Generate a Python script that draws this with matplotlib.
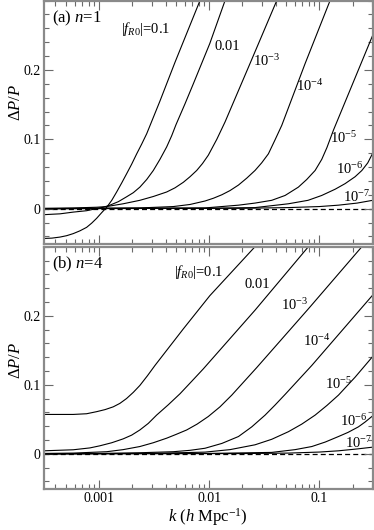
import matplotlib
matplotlib.use("Agg")
import matplotlib.pyplot as plt
from matplotlib.ticker import FixedLocator, LogLocator, MultipleLocator, FuncFormatter, NullFormatter

plt.rcParams['font.family'] = ['Liberation Serif', 'DejaVu Serif']
plt.rcParams['mathtext.fontset'] = 'custom'
plt.rcParams['mathtext.rm'] = 'Liberation Serif'
plt.rcParams['mathtext.it'] = 'Liberation Serif:italic'
plt.rcParams['mathtext.bf'] = 'Liberation Serif:bold'

# |fR0| labels, one per curve
fr0_labels = [r'$|f_{R0}|$=0.1', '0.01', r'10$^{-3}$', r'10$^{-4}$',
              r'10$^{-5}$', r'10$^{-6}$', r'10$^{-7}$']

# ---- panel (a): n=1, k in h/Mpc, values are Delta P / P ----
a1_k = [3.14e-4, 3.72e-4, 4.40e-4, 5.06e-4, 5.81e-4, 6.68e-4, 7.68e-4, 8.53e-4, 9.47e-4, 1.05e-3,
        1.17e-3, 1.30e-3, 1.44e-3, 1.60e-3, 1.77e-3, 1.97e-3, 2.19e-3, 2.43e-3, 2.70e-3, 3.56e-3,
        4.88e-3, 8.23e-3]
a1_y = [-0.043, -0.0425, -0.041, -0.039, -0.036, -0.032, -0.027, -0.021, -0.014, -0.006,
        0.002, 0.012, 0.024, 0.037, 0.050, 0.064, 0.079, 0.093, 0.108, 0.155,
        0.211, 0.300]
a2_k = [3.14e-4, 4.40e-4, 5.81e-4, 7.68e-4, 9.47e-4, 1.09e-3, 1.25e-3, 1.49e-3, 1.77e-3, 2.04e-3,
        2.34e-3, 2.70e-3, 3.10e-3, 3.56e-3, 4.10e-3, 4.55e-3, 4.98e-3, 6.01e-3, 7.16e-3, 1.01e-2,
        1.39e-2]
a2_y = [-0.0087, -0.0075, -0.005, -0.003, 0.0, 0.002, 0.005, 0.010, 0.017, 0.023,
        0.031, 0.042, 0.055, 0.071, 0.089, 0.105, 0.121, 0.151, 0.180, 0.238,
        0.300]
a3_k = [3.14e-4, 5.81e-4, 9.47e-4, 1.17e-3, 1.65e-3, 2.34e-3, 3.10e-3, 4.10e-3, 4.88e-3, 5.81e-3,
        6.68e-3, 7.68e-3, 8.67e-3, 9.79e-3, 1.17e-2, 1.39e-2, 2.34e-2, 4.10e-2]
a3_y = [0.0005, 0.001, 0.002, 0.003, 0.007, 0.012, 0.0175, 0.024, 0.030, 0.038,
        0.046, 0.055, 0.065, 0.077, 0.100, 0.125, 0.209, 0.300]
a4_k = [3.14e-4, 2.34e-3, 4.71e-3, 6.68e-3, 9.14e-3, 1.09e-2, 1.30e-2, 1.54e-2, 1.84e-2, 2.19e-2,
        2.60e-2, 2.99e-2, 3.44e-2, 3.95e-2, 4.55e-2, 7.41e-2, 0.125]
a4_y = [0.0, 0.001, 0.003, 0.006, 0.011, 0.015, 0.020, 0.026, 0.034, 0.044,
        0.055, 0.066, 0.079, 0.099, 0.120, 0.209, 0.300]
a5_k = [3.14e-4, 9.14e-3, 1.84e-2, 2.60e-2, 3.69e-2, 4.88e-2, 6.44e-2, 7.67e-2, 9.14e-2, 0.105,
        0.117, 0.134, 0.198, 0.305]
a5_y = [0.0, 0.001, 0.005, 0.008, 0.012, 0.019, 0.031, 0.042, 0.055, 0.071,
        0.088, 0.113, 0.178, 0.250]
a6_k = [3.14e-4, 9.8e-3, 2.60e-2, 5.23e-2, 7.89e-2, 0.105, 0.139, 0.171, 0.211, 0.243, 0.275, 0.305]
a6_y = [0.0, 0.0005, 0.0015, 0.007, 0.012, 0.019, 0.028, 0.036, 0.046, 0.055, 0.066, 0.080]
a7_k = [3.14e-4, 0.02, 0.0523, 0.1, 0.149, 0.22, 0.305]
a7_y = [0.0, 0.0005, 0.0015, 0.003, 0.005, 0.008, 0.012]

# ---- panel (b): n=4 ----
b1_k = [3.14e-4, 5.81e-4, 7.68e-4, 9.47e-4, 1.13e-3, 1.34e-3, 1.54e-3, 1.77e-3, 2.04e-3, 2.34e-3,
        2.74e-3, 3.21e-3, 5.81e-3, 1.01e-2, 2.60e-2]
b1_y = [0.057, 0.057, 0.058, 0.061, 0.064, 0.068, 0.073, 0.080, 0.089, 0.099,
        0.113, 0.128, 0.181, 0.229, 0.300]
b2_k = [3.14e-4, 5.81e-4, 8.23e-4, 1.01e-3, 1.30e-3, 1.65e-3, 1.97e-3, 2.34e-3, 2.79e-3, 3.32e-3,
        4.24e-3, 5.42e-3, 6.92e-3, 8.82e-3, 2.60e-2, 7.94e-2]
b2_y = [0.0043, 0.0058, 0.0085, 0.0115, 0.016, 0.0216, 0.027, 0.0345, 0.044, 0.056,
        0.071, 0.087, 0.105, 0.123, 0.208, 0.300]
b3_k = [3.14e-4, 5.81e-4, 1.17e-3, 1.65e-3, 2.34e-3, 3.10e-3, 4.10e-3, 4.98e-3, 6.23e-3, 7.75e-3,
        9.79e-3, 1.25e-2, 1.60e-2, 2.70e-2, 7.94e-2, 0.243]
b3_y = [0.0005, 0.001, 0.003, 0.006, 0.0105, 0.016, 0.0226, 0.028, 0.0345, 0.043,
        0.054, 0.068, 0.085, 0.125, 0.210, 0.300]
b4_k = [3.14e-4, 1.01e-3, 2.34e-3, 4.71e-3, 6.68e-3, 9.14e-3, 1.30e-2, 1.84e-2, 2.43e-2, 3.21e-2,
        3.95e-2, 4.88e-2, 8.53e-2, 0.305]
b4_y = [0.0, 0.0005, 0.0015, 0.003, 0.005, 0.008, 0.015, 0.025, 0.039, 0.056,
        0.0705, 0.086, 0.128, 0.230]
b5_k = [3.14e-4, 2.89e-3, 9.14e-3, 1.54e-2, 2.60e-2, 3.69e-2, 5.23e-2, 6.92e-2, 9.14e-2, 0.117,
        0.149, 0.211, 0.305]
b5_y = [0.0, 0.0005, 0.0024, 0.006, 0.013, 0.021, 0.032, 0.043, 0.056, 0.070,
        0.085, 0.111, 0.141]
b6_k = [3.14e-4, 9.8e-3, 3.69e-2, 6.01e-2, 8.53e-2, 0.113, 0.149, 0.182, 0.226, 0.260, 0.305]
b6_y = [0.0, 0.0005, 0.002, 0.006, 0.0105, 0.017, 0.025, 0.031, 0.039, 0.046, 0.055]
b7_k = [3.14e-4, 0.02, 0.0523, 0.1, 0.149, 0.22, 0.305]
b7_y = [0.0, 0.0003, 0.001, 0.0025, 0.0043, 0.007, 0.0096]

panel_a = [(a1_k, a1_y), (a2_k, a2_y), (a3_k, a3_y), (a4_k, a4_y), (a5_k, a5_y), (a6_k, a6_y), (a7_k, a7_y)]
panel_b = [(b1_k, b1_y), (b2_k, b2_y), (b3_k, b3_y), (b4_k, b4_y), (b5_k, b5_y), (b6_k, b6_y), (b7_k, b7_y)]

# where the |fR0| labels sit (k, DeltaP/P)
label_pos_a = [(2.62e-3, 0.259), (1.46e-2, 0.234), (3.33e-2, 0.2126), (8.22e-2, 0.1765),
               (0.165, 0.102), (0.190, 0.0567), (0.219, 0.0163)]
label_pos_b = [(8.05e-3, 0.264), (2.74e-2, 0.2446), (6.01e-2, 0.216), (9.46e-2, 0.1626),
               (0.149, 0.1014), (0.204, 0.0475), (0.2265, 0.0151)]

xlim = (3.15e-4, 0.305)
ylim = (-0.051, 0.30)

fig = plt.figure(figsize=(3.74, 5.30), dpi=100)
ax_a = fig.add_axes([0.1176, 0.5396, 0.879, 0.4594])
ax_b = fig.add_axes([0.1176, 0.0774, 0.879, 0.4571])

frame_col = '#8a8a8a'


def style_axis(ax, panel_text, ylab_y):
    ax.set_xscale('log')
    ax.set_xlim(*xlim)
    ax.set_ylim(*ylim)
    ax.axhline(0, color='black', lw=0.9, ls=(0, (4, 2.5)), zorder=1)
    ax.xaxis.set_major_locator(FixedLocator([1e-3, 1e-2, 1e-1]))
    ax.xaxis.set_minor_locator(LogLocator(base=10, subs=range(2, 10)))
    ax.xaxis.set_major_formatter(FuncFormatter(lambda v, p: f'{v:g}'))
    ax.xaxis.set_minor_formatter(NullFormatter())
    ax.yaxis.set_major_locator(FixedLocator([0, 0.1, 0.2]))
    ax.yaxis.set_minor_locator(MultipleLocator(0.02))
    ax.yaxis.set_major_formatter(FuncFormatter(lambda v, p: '0' if abs(v) < 1e-9 else f'{v:g}'))
    ax.tick_params(which='both', direction='in', top=True, right=True,
                   color='#6a6a6a', labelsize=10)
    ax.tick_params(which='major', length=6.5, width=0.8, pad=2.5)
    ax.tick_params(which='minor', length=3.5, width=0.8)
    for s in ax.spines.values():
        s.set_color(frame_col)
        s.set_linewidth(1.6)
    ax.set_ylabel(r'$\Delta P/P$', fontsize=12)
    ax.yaxis.set_label_coords(-0.062, ylab_y)
    ax.text(0.0234, 0.926, panel_text, transform=ax.transAxes,
            fontsize=12, ha='left', va='center')


for ax, curves, pos in [(ax_a, panel_a, label_pos_a), (ax_b, panel_b, label_pos_b)]:
    for (k, y), lab, (lx, ly) in zip(curves, fr0_labels, pos):
        ax.plot(k, y, color='black', lw=0.8, zorder=2)
        ax.text(lx, ly, lab, fontsize=10.5, ha='center', va='center', zorder=3)

style_axis(ax_a, r'(a) $n$=1', 0.583)
style_axis(ax_b, r'(b) $n$=4', 0.532)
ax_a.tick_params(labelbottom=False)
ax_b.set_xlabel(r'$k$ ($h$ Mpc$^{-1}$)', fontsize=12, labelpad=0.5)

fig.savefig('out.png', dpi=100)
